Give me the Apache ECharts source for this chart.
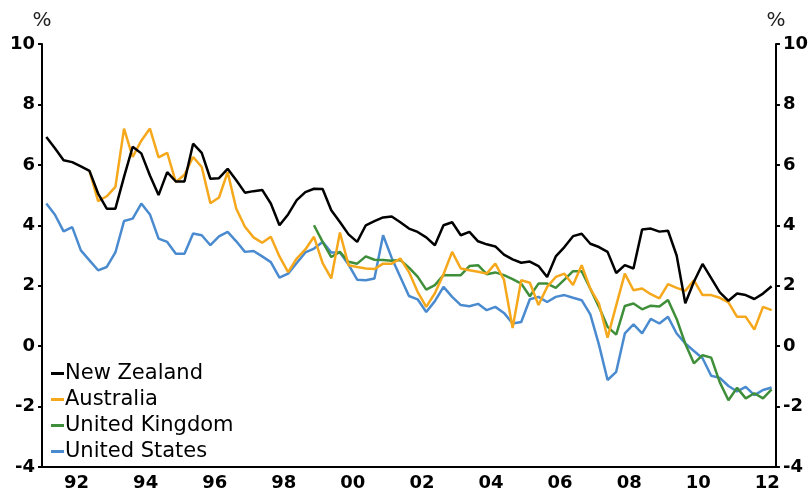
<!DOCTYPE html>
<html><head><meta charset="utf-8">
<script src="https://cdn.jsdelivr.net/npm/echarts@6/dist/echarts.min.js"></script>
<style>html,body{margin:0;padding:0;background:#fff}#c{width:811px;height:492px}</style>
</head><body><div id="c"></div>
<script>
// Quarterly observations, 1991 Q1 to 2012 Q1
const startYear = 1991;
const quarterCount = 85;
const quarters = [];
for (let i = 0; i < quarterCount; i++) {
  quarters.push((startYear + Math.floor(i / 4)) + 'Q' + (i % 4 + 1));
}

const yTicks = { min: -4, max: 10, interval: 2 };
const seriesNames = ['New Zealand', 'Australia', 'United Kingdom', 'United States'];

const newZealand = [6.92,6.55,6.15,6.09,5.95,5.80,5.05,4.55,4.55,5.6,6.6,6.38,5.65,5.0,5.76,5.45,5.45,6.70,6.40,5.54,5.56,5.87,5.49,5.08,5.13,5.17,4.72,4.0,4.36,4.83,5.10,5.21,5.2,4.5,4.11,3.7,3.45,4.0,4.14,4.26,4.29,4.1,3.89,3.78,3.6,3.34,4.0,4.1,3.67,3.78,3.47,3.37,3.3,3.03,2.87,2.76,2.8,2.65,2.29,2.97,3.28,3.64,3.72,3.39,3.28,3.12,2.42,2.68,2.57,3.86,3.89,3.79,3.82,3.0,1.42,2.13,2.72,2.25,1.78,1.5,1.74,1.69,1.56,1.74,1.98];

const australia = [null,null,null,null,null,5.8,4.8,4.96,5.27,7.2,6.26,6.8,7.2,6.25,6.4,5.43,5.67,6.26,5.93,4.73,4.92,5.76,4.55,3.95,3.6,3.42,3.62,2.97,2.45,2.9,3.2,3.62,2.75,2.24,3.76,2.68,2.62,2.57,2.55,2.73,2.73,2.9,2.45,1.8,1.3,1.75,2.38,3.12,2.57,2.51,2.46,2.4,2.73,2.2,0.6,2.18,2.1,1.36,1.96,2.29,2.4,2.02,2.68,1.9,1.41,0.28,1.35,2.4,1.85,1.91,1.72,1.58,2.05,1.93,1.83,2.18,1.69,1.69,1.6,1.45,0.97,0.97,0.55,1.3,1.19];

const unitedKingdom = [null,null,null,null,null,null,null,null,null,null,null,null,null,null,null,null,null,null,null,null,null,null,null,null,null,null,null,null,null,null,null,4.0,3.45,2.95,3.12,2.79,2.73,2.97,2.86,2.85,2.83,2.85,2.6,2.3,1.87,2.02,2.35,2.35,2.35,2.65,2.68,2.38,2.44,2.35,2.22,2.07,1.65,2.07,2.07,1.93,2.2,2.48,2.48,1.9,1.3,0.64,0.38,1.33,1.41,1.22,1.34,1.31,1.53,0.9,0.08,-0.57,-0.3,-0.38,-1.2,-1.79,-1.38,-1.73,-1.56,-1.73,-1.43];

const unitedStates = [4.72,4.35,3.8,3.94,3.17,2.84,2.51,2.62,3.1,4.14,4.22,4.72,4.36,3.56,3.45,3.06,3.06,3.73,3.67,3.34,3.63,3.78,3.47,3.12,3.15,2.97,2.78,2.27,2.4,2.75,3.1,3.23,3.45,3.1,3.1,2.7,2.2,2.18,2.24,3.67,2.92,2.29,1.66,1.55,1.13,1.49,1.96,1.63,1.36,1.32,1.4,1.19,1.3,1.1,0.75,0.8,1.55,1.63,1.46,1.63,1.69,1.6,1.52,1.05,0.05,-1.12,-0.85,0.42,0.72,0.42,0.9,0.75,0.97,0.42,0.09,-0.16,-0.4,-0.98,-1.05,-1.32,-1.5,-1.35,-1.62,-1.45,-1.37];

const seriesData = [newZealand, australia, unitedKingdom, unitedStates];
const colors = ['#000000', '#f6a81c', '#3f8f3a', '#4a8bd0'];

const FONT = 'DejaVu Sans';
const labelStyle = { color: '#000', fontWeight: 'bold', fontSize: 18, fontFamily: FONT };
const axisLineStyle = { color: '#000', width: 2 };

function yAxis(pos) {
  return {
    type: 'value', position: pos, min: yTicks.min, max: yTicks.max, interval: yTicks.interval,
    name: '%', nameLocation: 'end', nameGap: 13,
    nameTextStyle: { color: '#222', fontSize: 20, fontFamily: FONT, align: 'center' },
    axisLine: { show: true, onZero: false, lineStyle: axisLineStyle },
    axisTick: { show: true, length: 4, lineStyle: axisLineStyle },
    splitLine: { show: false },
    axisLabel: Object.assign({ margin: 7 }, labelStyle)
  };
}

const chart = echarts.init(document.getElementById('c'), null, { renderer: 'canvas' });
chart.setOption({
  animation: false,
  backgroundColor: '#fff',
  grid: { left: 42, right: 34, top: 44, bottom: 25, containLabel: false },
  xAxis: {
    type: 'category', data: quarters, boundaryGap: true,
    axisLine: { onZero: false, lineStyle: axisLineStyle },
    axisTick: { interval: (i) => i % 8 === 0, length: 5, lineStyle: axisLineStyle },
    axisLabel: Object.assign({
      interval: (i) => i % 8 === 4,
      formatter: (v) => v.slice(2, 4),
      margin: 7,
      padding: [0, 8.6, 0, 0]
    }, labelStyle)
  },
  yAxis: [yAxis('left'), yAxis('right')],
  legend: {
    data: seriesNames, orient: 'vertical', left: 46, top: 358,
    icon: 'rect', itemWidth: 13, itemHeight: 3, itemGap: 5,
    textStyle: { color: '#000', fontSize: 21, fontFamily: FONT, padding: [0, 0, 0, -4] }
  },
  series: seriesNames.map((name, k) => ({
    name, type: 'line', data: seriesData[k], yAxisIndex: 0,
    showSymbol: false, symbol: 'none', connectNulls: false,
    color: colors[k],
    lineStyle: { color: colors[k], width: 2.5 },
    z: 10 - k
  }))
});
</script></body></html>
